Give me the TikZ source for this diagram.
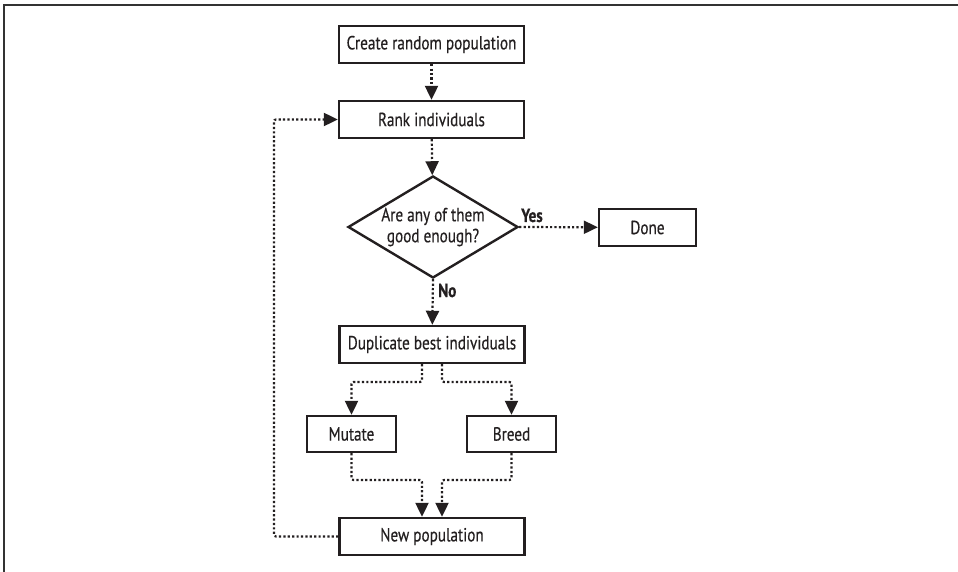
\documentclass[tikz,border=0pt]{standalone}
\usepackage{fontspec}
\setmainfont[FakeStretch=0.8,FakeBold=0.4]{PT Sans}
\usetikzlibrary{shapes.geometric,arrows.meta}
\definecolor{ink}{HTML}{231F20}
\begin{document}
\begin{tikzpicture}[x=1pt,y=-1pt,
  every node/.style={font=\fontsize{19pt}{21pt}\selectfont, text=ink},
  box/.style={draw=ink, line width=2.4pt, minimum height=37pt, inner sep=0pt},
  wide/.style={box, minimum width=185pt},
  decision/.style={diamond, draw=ink, line width=2.4pt, minimum width=170pt, minimum height=102pt, inner sep=0pt, aspect=1.67, align=center},
  flow/.style={draw=ink, line width=2.2pt, dash pattern=on 2.2pt off 2.2pt, rounded corners=2pt, -{Triangle[length=14pt,width=13pt]}},
  lbl/.style={font=\fontsize{19pt}{21pt}\selectfont\bfseries, inner sep=0pt}
]
\useasboundingbox (0,0) rectangle (958,572);
\draw[line width=1.8pt, draw=black!80] (4,572) -- (4,5) -- (958,5);

\node[wide] (create) at (431.5,44.5) {Create random population};
\node[wide] (rank) at (431.5,119.5) {Rank individuals};
\node[decision] (dec) at (433,227) {Are any of them\\good enough?};
\node[box, minimum width=97pt] (done) at (647.5,227.5) {Done};
\node[wide] (dup) at (432,344.5) {Duplicate best individuals};
\node[box, minimum width=89pt, minimum height=36pt] (mut) at (351.5,434) {Mutate};
\node[box, minimum width=89pt, minimum height=36pt] (breed) at (511.5,434) {Breed};
\node[wide] (newp) at (432,536.5) {New population};

\node[lbl, anchor=base west] (yes) at (521,222) {Yes};
\node[lbl, anchor=base west] (no) at (438,297) {No};

\coordinate (loopb) at (274,536.5);
\coordinate (loopt) at (274,119.5);

\draw[flow] (create) -- (rank);
\draw[flow] (rank) -- (dec);
\draw[flow] (dec.east) -- (done);
\draw[flow] (dec.south) -- (dup);
\draw[flow] ([xshift=-10pt]dup.south) |- (382,382) -| (mut.north);
\draw[flow] ([xshift=10pt]dup.south) |- (482,382) -| (breed.north);
\draw[flow] (mut.south) |- (400,480) -| ([xshift=-10pt]newp.north);
\draw[flow] (breed.south) |- (462,480) -| ([xshift=10pt]newp.north);
\draw[flow] (newp.west) -- (loopb) -- (loopt) -- (rank.west);
\end{tikzpicture}
\end{document}
